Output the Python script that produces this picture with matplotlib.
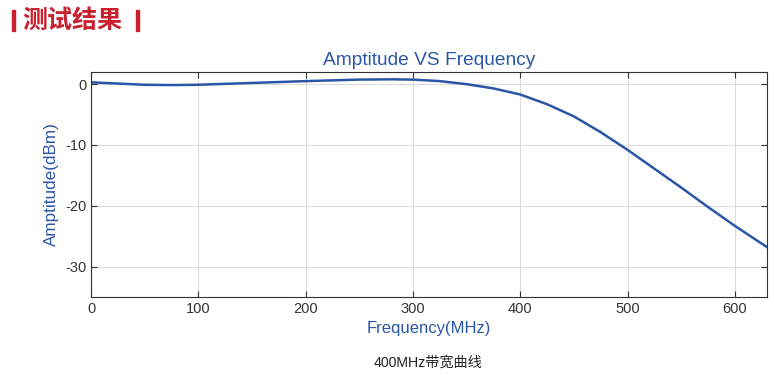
import matplotlib.pyplot as plt
from matplotlib.patches import Rectangle

plt.rcParams['font.family'] = ['Liberation Sans', 'Noto Sans CJK SC', 'DejaVu Sans']
plt.rcParams['axes.unicode_minus'] = False

# frequency (MHz) and amplitude (dBm)
freq = [0, 25, 50, 75, 100, 150, 200, 250, 280, 300, 325, 350, 375, 400,
        425, 450, 475, 500, 525, 550, 575, 600, 630]
amp = [0.3, 0.1, -0.1, -0.15, -0.1, 0.2, 0.5, 0.75, 0.8, 0.75, 0.5, 0.0, -0.7, -1.7,
       -3.3, -5.3, -7.9, -10.8, -13.9, -17.0, -20.2, -23.3, -26.8]

x_ticks = [0, 100, 200, 300, 400, 500, 600]
y_ticks = [0, -10, -20, -30]

blue = '#2b56a6'

fig = plt.figure(figsize=(7.74, 3.75), dpi=100)
ax = fig.add_axes([0.1176, 0.208, 0.8734, 0.6])

ax.plot(freq, amp, color=blue, linewidth=1.8)
ax.set_xlim(0, 630)
ax.set_ylim(-35, 2)
ax.set_xticks(x_ticks)
ax.set_yticks(y_ticks)
ax.grid(True, color='#dcdcdc', linewidth=0.8)
ax.tick_params(direction='in', top=True, right=True, labelsize=10.5,
               colors='#333333', length=4)
for s in ax.spines.values():
    s.set_color('#333333')

ax.set_title('Amptitude VS Frequency', color=blue, fontsize=13.8, pad=5)
ax.set_xlabel('Frequency(MHz)', color=blue, fontsize=12, labelpad=4)
ax.set_ylabel('Amptitude(dBm)', color=blue, fontsize=12.3, labelpad=4)

fig.text(0.553, 0.022, '400MHz带宽曲线', fontsize=10.2, color='#222222', ha='center')

red = '#c8202f'
fig.text(0.029, 0.945, '测试结果', fontsize=18, fontweight='bold', color=red,
         va='center', ha='left')
fig.patches.append(Rectangle((0.0155, 0.918), 0.0045, 0.055, transform=fig.transFigure,
                             color=red, figure=fig))
fig.patches.append(Rectangle((0.1755, 0.918), 0.0045, 0.055, transform=fig.transFigure,
                             color=red, figure=fig))

fig.savefig('out.png', dpi=100)
